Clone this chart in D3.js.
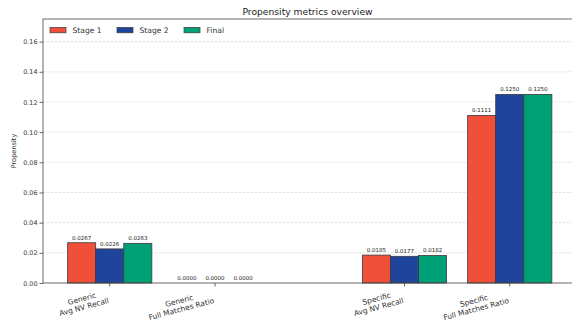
<!DOCTYPE html>
<html>
<head>
<meta charset="utf-8">
<script src="https://cdn.jsdelivr.net/npm/d3@7"></script>
<style>
  html, body { margin: 0; padding: 0; background: #fff; }
  svg { display: block; font-family: "DejaVu Sans", sans-serif; }
</style>
</head>
<body>
<svg id="chart" width="572" height="324"></svg>
<script>
// Metric groups (two lines each) and where they sit on the x axis
const categories = [
  ["Generic", "Avg NV Recall"],
  ["Generic", "Full Matches Ratio"],
  ["Specific", "Avg NV Recall"],
  ["Specific", "Full Matches Ratio"]
];
const categoryPositions = [0, 1, 2.8, 3.8];

const seriesNames = ["Stage 1", "Stage 2", "Final"];
const stage1 = [0.0267, 0.0000, 0.0185, 0.1111];
const stage2 = [0.0226, 0.0000, 0.0177, 0.1250];
const final  = [0.0263, 0.0000, 0.0182, 0.1250];
const seriesValues = [stage1, stage2, final];
const seriesColors = ["#F0503A", "#1F449C", "#00A077"];

const yTicks = [0, 0.02, 0.04, 0.06, 0.08, 0.10, 0.12, 0.14, 0.16];

const svg = d3.select("#chart");
const plot = { left: 43, right: 576.5, top: 19, bottom: 283 };

const x = d3.scaleLinear().domain([-0.634, 4.434]).range([plot.left, plot.right]);
const y = d3.scaleLinear().domain([0, 0.175]).range([plot.bottom, plot.top]);

const groupWidth = 0.8;
const barW = groupWidth / seriesNames.length;

// Horizontal dashed grid
svg.append("g")
  .selectAll("line")
  .data(yTicks.filter(t => t > 0))
  .join("line")
  .attr("x1", plot.left).attr("x2", plot.right)
  .attr("y1", d => y(d)).attr("y2", d => y(d))
  .attr("stroke", "#cfcfcf")
  .attr("stroke-width", 0.6)
  .attr("stroke-dasharray", "2.5,1.5");

// Bars
const bars = svg.append("g");
seriesValues.forEach((vals, si) => {
  bars.selectAll(null)
    .data(vals.map((v, ci) => ({ v, ci })))
    .join("rect")
    .attr("x", d => x(categoryPositions[d.ci] - groupWidth / 2 + si * barW))
    .attr("width", x(barW) - x(0))
    .attr("y", d => y(d.v))
    .attr("height", d => y(0) - y(d.v))
    .attr("fill", seriesColors[si])
    .attr("stroke", "#3a3a3a")
    .attr("stroke-width", d => d.v > 0 ? 0.8 : 0);

  bars.selectAll(null)
    .data(vals.map((v, ci) => ({ v, ci })))
    .join("text")
    .attr("x", d => x(categoryPositions[d.ci] - groupWidth / 2 + (si + 0.5) * barW))
    .attr("y", d => y(d.v) - 3.2)
    .attr("text-anchor", "middle")
    .attr("font-size", 5.5)
    .attr("fill", "#222")
    .text(d => d.v.toFixed(4));
});

// Y axis
const yAxis = d3.axisLeft(y).tickValues(yTicks).tickFormat(d3.format(".2f")).tickSize(3.5).tickPadding(2);
const yg = svg.append("g").attr("transform", `translate(${plot.left},0)`).call(yAxis);
yg.select(".domain").remove();
yg.selectAll(".tick line").attr("stroke", "#444").attr("stroke-width", 0.8);
yg.selectAll(".tick text").attr("font-size", 6.4).attr("fill", "#333").attr("font-family", "DejaVu Sans");

// X axis ticks
const xg = svg.append("g");
xg.selectAll("line")
  .data(categoryPositions)
  .join("line")
  .attr("x1", d => x(d)).attr("x2", d => x(d))
  .attr("y1", plot.bottom).attr("y2", plot.bottom + 3.5)
  .attr("stroke", "#444").attr("stroke-width", 0.8);

// Frame
svg.append("rect")
  .attr("x", plot.left).attr("y", plot.top)
  .attr("width", plot.right - plot.left).attr("height", plot.bottom - plot.top)
  .attr("fill", "none").attr("stroke", "#444").attr("stroke-width", 0.8);

// Rotated two-line category labels, right edge aligned to the tick
const angle = 15, rad = angle * Math.PI / 180;
const lblSize = 7.4, lineH = lblSize * 1.15;
categories.forEach((lines, i) => {
  const g = svg.append("g");
  const texts = lines.map((s, k) => g.append("text")
    .attr("text-anchor", "middle")
    .attr("font-size", lblSize)
    .attr("fill", "#333")
    .attr("dy", ((k - (lines.length - 1) / 2) * lineH + lblSize * 0.35).toFixed(2))
    .text(s));
  const w = d3.max(texts, t => t.node().getComputedTextLength());
  const h = lines.length * lineH;
  const halfW = (w / 2) * Math.cos(rad) + (h / 2) * Math.sin(rad);
  const halfH = (w / 2) * Math.sin(rad) + (h / 2) * Math.cos(rad);
  const cx = x(categoryPositions[i]) - halfW;
  const cy = plot.bottom + 5 + halfH;
  g.attr("transform", `translate(${cx},${cy}) rotate(${-angle})`);
});

// Y label
svg.append("text")
  .attr("transform", `translate(16,${(plot.top + plot.bottom) / 2}) rotate(-90)`)
  .attr("text-anchor", "middle")
  .attr("font-size", 6.6)
  .attr("fill", "#333")
  .text("Propensity");

// Title
svg.append("text")
  .attr("x", (plot.left + 572) / 2)
  .attr("y", 15)
  .attr("text-anchor", "middle")
  .attr("font-size", 9.2)
  .attr("fill", "#222")
  .text("Propensity metrics overview");

// Legend
const legend = svg.append("g");
const legendX = [50, 117, 184];
seriesNames.forEach((name, i) => {
  legend.append("rect")
    .attr("x", legendX[i]).attr("y", 27.4)
    .attr("width", 16).attr("height", 5.4)
    .attr("fill", seriesColors[i])
    .attr("stroke", "#3a3a3a").attr("stroke-width", 0.7);
  legend.append("text")
    .attr("x", legendX[i] + 22.5).attr("y", 32.8)
    .attr("font-size", 7.6)
    .attr("fill", "#333")
    .text(name);
});
</script>
</body>
</html>
